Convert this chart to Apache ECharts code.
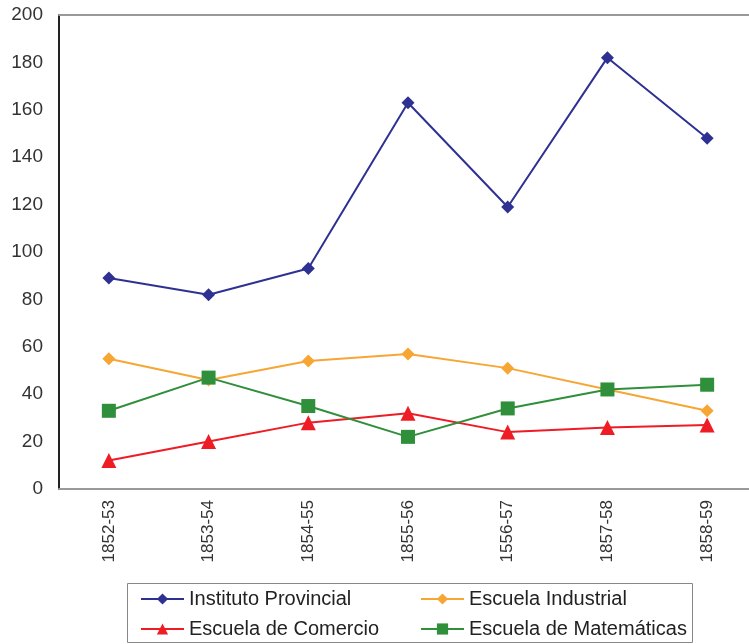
<!DOCTYPE html>
<html>
<head>
<meta charset="utf-8">
<script src="https://cdn.jsdelivr.net/npm/echarts@6/dist/echarts.min.js"></script>
<style>
  html, body { margin: 0; padding: 0; background: #fff; }
  #main { width: 749px; height: 644px; }
</style>
</head>
<body>
<div id="main"></div>
<script>
// datos
let cursos = ['1852-53', '1853-54', '1854-55', '1855-56', '1556-57', '1857-58', '1858-59']
let instituto = [89, 82, 93, 163, 119, 182, 148]
let industrial = [55, 46, 54, 57, 51, 42, 33]
let comercio = [12, 20, 28, 32, 24, 26, 27]
let matematicas = [33, 47, 35, 22, 34, 42, 44]

let chart = echarts.init(document.getElementById('main'))

function serie(name, data, color, symbol, size) {
  return {
    name: name,
    type: 'line',
    data: data,
    symbol: symbol,
    symbolSize: size,
    lineStyle: { color: color, width: 2 },
    itemStyle: { color: color },
    emphasis: { disabled: true }
  }
}

let legendText = { fontFamily: 'Liberation Sans', fontSize: 20, color: '#222' }

let option = {
  animation: false,
  grid: { left: 59, top: 15, width: 698, height: 474, outerBoundsMode: 'none', containLabel: false },
  xAxis: [
    {
      type: 'category',
      data: cursos,
      axisLine: { lineStyle: { color: '#999', width: 2 } },
      axisTick: { show: false },
      axisLabel: {
        rotate: 90,
        margin: 11,
        fontFamily: 'Liberation Sans',
        fontSize: 17,
        color: '#333'
      }
    },
    {
      type: 'category',
      position: 'top',
      data: cursos,
      axisLine: { lineStyle: { color: '#999', width: 2 } },
      axisTick: { show: false },
      axisLabel: { show: false }
    }
  ],
  yAxis: {
    type: 'value',
    min: 0,
    max: 200,
    interval: 20,
    axisLine: { show: true, lineStyle: { color: '#222', width: 2 } },
    axisTick: { show: false },
    splitLine: { show: false },
    axisLabel: {
      margin: 16,
      fontFamily: 'Liberation Sans',
      fontSize: 19,
      color: '#333'
    }
  },
  legend: [
    {
      orient: 'vertical',
      left: 140,
      top: 589,
      padding: 0,
      itemWidth: 43,
      itemHeight: 14,
      itemGap: 10,
      textStyle: legendText,
      data: ['Instituto Provincial', 'Escuela de Comercio']
    },
    {
      orient: 'vertical',
      left: 420,
      top: 589,
      padding: 0,
      itemWidth: 43,
      itemHeight: 14,
      itemGap: 10,
      textStyle: legendText,
      data: ['Escuela Industrial', 'Escuela de Matemáticas']
    }
  ],
  graphic: [
    {
      type: 'rect',
      shape: { x: 127.5, y: 583.5, width: 565, height: 59 },
      style: { fill: 'none', stroke: '#888', lineWidth: 1 }
    }
  ],
  series: [
    serie('Instituto Provincial', instituto, '#2E3192', 'diamond', 13),
    serie('Escuela Industrial', industrial, '#F7A634', 'diamond', 13),
    serie('Escuela de Comercio', comercio, '#EE1C25', 'triangle', 15),
    serie('Escuela de Matemáticas', matematicas, '#2F8F3A', 'rect', 14)
  ]
}
chart.setOption(option)
</script>
</body>
</html>
